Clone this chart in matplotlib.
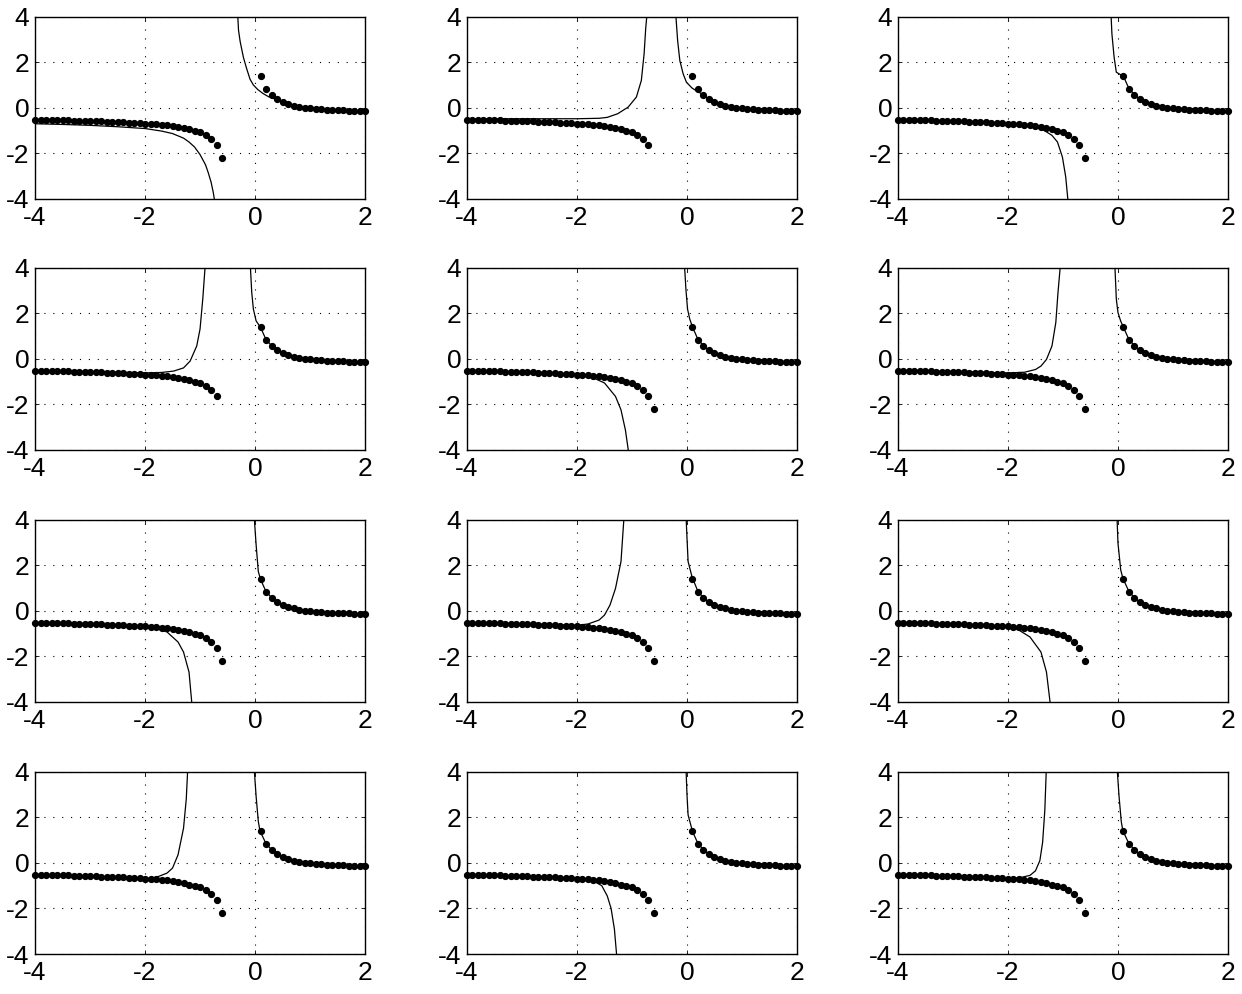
import matplotlib
matplotlib.use("Agg")
import matplotlib.pyplot as plt

# ---------------- data ----------------
dot_x_left = [-4.0, -3.9, -3.8, -3.7, -3.6, -3.5, -3.4, -3.3, -3.2, -3.1,
              -3.0, -2.9, -2.8, -2.7, -2.6, -2.5, -2.4, -2.3, -2.2, -2.1,
              -2.0, -1.9, -1.8, -1.7, -1.6, -1.5, -1.4, -1.3, -1.2, -1.1,
              -1.0, -0.9, -0.8, -0.7, -0.6]
dot_y_left = [-0.52, -0.52, -0.53, -0.53, -0.54, -0.55, -0.55, -0.56, -0.57, -0.57,
              -0.58, -0.59, -0.60, -0.61, -0.62, -0.63, -0.64, -0.65, -0.66, -0.68,
              -0.69, -0.71, -0.72, -0.74, -0.77, -0.80, -0.84, -0.89, -0.95, -1.01,
              -1.08, -1.18, -1.35, -1.65, -2.20]
dot_x_right = [0.1, 0.2, 0.3, 0.4, 0.5, 0.6, 0.7, 0.8, 0.9, 1.0,
               1.1, 1.2, 1.3, 1.4, 1.5, 1.6, 1.7, 1.8, 1.9, 2.0]
dot_y_right = [1.38, 0.84, 0.58, 0.37, 0.26, 0.16, 0.10, 0.05, 0.01, -0.02,
               -0.04, -0.06, -0.08, -0.09, -0.10, -0.11, -0.12, -0.13, -0.14, -0.15]
# whether the last left dot (x=-0.6) is visible in each panel
last_dot_visible = [True, False, True, False, True, True,
                    True, True, True, True, True, True]

# common tail of the right-hand curves (read where they run on the dots)
tail_x = [0.2, 0.3, 0.4, 0.5, 0.7, 1.0, 1.5, 2.0]
tail_y = [0.84, 0.58, 0.37, 0.26, 0.10, -0.02, -0.10, -0.15]

L1x = [-4, -3.5, -3, -2.5, -2, -1.7, -1.5, -1.3, -1.2, -1.1, -1.0, -0.9, -0.85, -0.8, -0.76, -0.72]
L1y = [-0.70, -0.73, -0.77, -0.83, -0.91, -1.02, -1.13, -1.33, -1.5, -1.72, -2.05, -2.5, -2.85, -3.25, -3.7, -4.3]
R1x = [-0.32, -0.30, -0.27, -0.21, -0.15, -0.09, -0.03, 0.05, 0.15, 0.25, 0.4, 0.5, 0.7, 1.0, 1.5, 2.0]
R1y = [4.3, 3.4, 2.9, 2.2, 1.7, 1.25, 1.0, 0.8, 0.62, 0.48, 0.36, 0.26, 0.10, -0.02, -0.10, -0.15]

L2x = [-4, -3, -2, -1.6, -1.45, -1.26, -1.07, -0.92, -0.83, -0.78, -0.75, -0.72]
L2y = [-0.48, -0.48, -0.48, -0.46, -0.42, -0.26, 0.03, 0.47, 1.2, 2.36, 3.5, 4.3]
R2x = [-0.21, -0.17, -0.13, -0.07, -0.01, 0.09, 0.18, 0.3, 0.4, 0.5, 0.7, 1.0, 1.5, 2.0]
R2y = [4.3, 2.94, 2.07, 1.49, 1.12, 0.87, 0.73, 0.57, 0.37, 0.26, 0.10, -0.02, -0.10, -0.15]

L3x = [-4, -3, -2.5, -2, -1.7, -1.4, -1.2, -1.1, -1.01, -0.95, -0.90]
L3y = [-0.53, -0.60, -0.66, -0.76, -0.80, -0.90, -1.21, -1.5, -2.16, -3.03, -4.3]
R3x = [-0.13, -0.11, -0.07, -0.03, 0.1]
R3y = [4.3, 3.24, 2.22, 1.56, 1.38]

L4x = [-4, -3, -2, -1.7, -1.48, -1.3, -1.18, -1.06, -1.0, -0.95, -0.90]
L4y = [-0.52, -0.56, -0.62, -0.60, -0.54, -0.40, -0.10, 0.56, 1.30, 2.62, 4.3]
R4x = [-0.09, -0.06, -0.03, 0.02, 0.1]
R4y = [4.3, 2.92, 2.18, 1.66, 1.38]

L5x = [-4, -3, -2.5, -2, -1.7, -1.5, -1.3, -1.2, -1.12, -1.05]
L5y = [-0.53, -0.58, -0.62, -0.70, -0.84, -1.06, -1.65, -2.24, -3.12, -4.3]
R5x = [-0.05, -0.02, 0.01, 0.05, 0.1]
R5y = [4.3, 3.06, 2.18, 1.74, 1.40]

L6x = [-4, -3, -2, -1.7, -1.5, -1.4, -1.3, -1.2, -1.13, -1.09, -1.04]
L6y = [-0.52, -0.56, -0.62, -0.59, -0.47, -0.32, -0.03, 0.56, 1.59, 2.92, 4.3]
R6x = [-0.06, -0.03, 0.0, 0.05, 0.1]
R6y = [4.3, 2.62, 2.03, 1.65, 1.38]

L7x = [-4, -3, -2.5, -2, -1.8, -1.6, -1.4, -1.3, -1.2, -1.14]
L7y = [-0.53, -0.58, -0.62, -0.70, -0.78, -0.93, -1.37, -1.81, -2.69, -4.3]
R7x = [-0.02, 0.02, 0.06, 0.1]
R7y = [4.3, 2.89, 1.72, 1.38]

L8x = [-4, -3, -2, -1.8, -1.6, -1.5, -1.4, -1.3, -1.2, -1.14]
L8y = [-0.52, -0.57, -0.64, -0.58, -0.41, -0.19, 0.25, 0.98, 2.16, 4.3]
R8x = [-0.02, 0.0, 0.02, 0.09]
R8y = [4.3, 3.19, 2.16, 1.5]

L9x = [-4, -3, -2.5, -2, -1.8, -1.6, -1.4, -1.3, -1.22]
L9y = [-0.53, -0.58, -0.63, -0.72, -0.85, -1.15, -1.81, -2.69, -4.3]
R9x = [-0.02, 0.0, 0.05, 0.09]
R9y = [4.3, 2.97, 1.79, 1.42]

L10x = [-4, -3, -2, -1.8, -1.6, -1.5, -1.4, -1.3, -1.25, -1.22]
L10y = [-0.55, -0.60, -0.70, -0.64, -0.45, -0.23, 0.35, 1.52, 2.8, 4.3]
R10x = [-0.02, 0.02, 0.06, 0.09]
R10y = [4.3, 2.91, 1.81, 1.40]

L11x = [-4, -3, -2.5, -2, -1.7, -1.55, -1.45, -1.38, -1.32, -1.27]
L11y = [-0.53, -0.58, -0.63, -0.70, -0.80, -1.0, -1.45, -2.0, -2.9, -4.3]
R11x = [-0.02, 0.0, 0.02, 0.1]
R11y = [4.3, 2.98, 2.1, 1.38]

L12x = [-4, -3, -2, -1.8, -1.6, -1.5, -1.42, -1.37, -1.33, -1.30]
L12y = [-0.55, -0.60, -0.68, -0.66, -0.55, -0.35, 0.10, 0.90, 2.3, 4.3]
R12x = [-0.02, 0.02, 0.06, 0.09]
R12y = [4.3, 2.91, 1.81, 1.40]

left_curves = [(L1x, L1y), (L2x, L2y), (L3x, L3y), (L4x, L4y), (L5x, L5y), (L6x, L6y),
               (L7x, L7y), (L8x, L8y), (L9x, L9y), (L10x, L10y), (L11x, L11y), (L12x, L12y)]
right_curves = [(R1x, R1y), (R2x, R2y), (R3x, R3y), (R4x, R4y), (R5x, R5y), (R6x, R6y),
                (R7x, R7y), (R8x, R8y), (R9x, R9y), (R10x, R10y), (R11x, R11y), (R12x, R12y)]
# panels whose right curve already contains its own tail
own_tail = [True, True, False, False, False, False, False, False, False, False, False, False]

x_ticks = [-4, -2, 0, 2]
y_ticks = [-4, -2, 0, 2, 4]
x_ticklabels = ["-4", "-2", "0", "2"]
y_ticklabels = ["-4", "-2", "0", "2", "4"]

# ---------------- drawing ----------------
plt.rcParams['font.family'] = ['Liberation Sans', 'DejaVu Sans']
fig = plt.figure(figsize=(12.42, 9.94), dpi=100)

col_left = [0.0282, 0.3760, 0.7230]
row_bottom = [0.7998, 0.5473, 0.2938, 0.0402]
ax_w = 0.2657
ax_h = 0.1835

for i in range(12):
    r, c = divmod(i, 3)
    ax = fig.add_axes([col_left[c], row_bottom[r], ax_w, ax_h])
    ax.set_xlim(-4, 2)
    ax.set_ylim(-4, 4)
    ax.set_xticks(x_ticks)
    ax.set_yticks(y_ticks)
    ax.set_xticklabels(x_ticklabels)
    ax.set_yticklabels(y_ticklabels)
    ax.tick_params(direction='in', length=3, width=0.6, labelsize=19,
                   colors='black', top=True, right=True)
    ax.tick_params(axis='x', pad=5)
    ax.tick_params(axis='y', pad=4)
    ax.grid(True, color='black', linestyle=(0, (1, 7)), linewidth=0.8)
    for s in ax.spines.values():
        s.set_linewidth(1.0)
        s.set_color('black')

    lx, ly = left_curves[i]
    ax.plot(lx, ly, color='black', linewidth=0.9)
    rx, ry = right_curves[i]
    if own_tail[i]:
        ax.plot(rx, ry, color='black', linewidth=0.9)
    else:
        ax.plot(list(rx) + tail_x, list(ry) + tail_y, color='black', linewidth=0.9)

    dxl = dot_x_left if last_dot_visible[i] else dot_x_left[:-1]
    dyl = dot_y_left if last_dot_visible[i] else dot_y_left[:-1]
    ax.plot(dxl, dyl, linestyle='none', marker='o', markersize=4.2,
            color='black', clip_on=False)
    ax.plot(dot_x_right, dot_y_right, linestyle='none', marker='o', markersize=4.2,
            color='black', clip_on=False)

fig.savefig("out.png", dpi=100)
